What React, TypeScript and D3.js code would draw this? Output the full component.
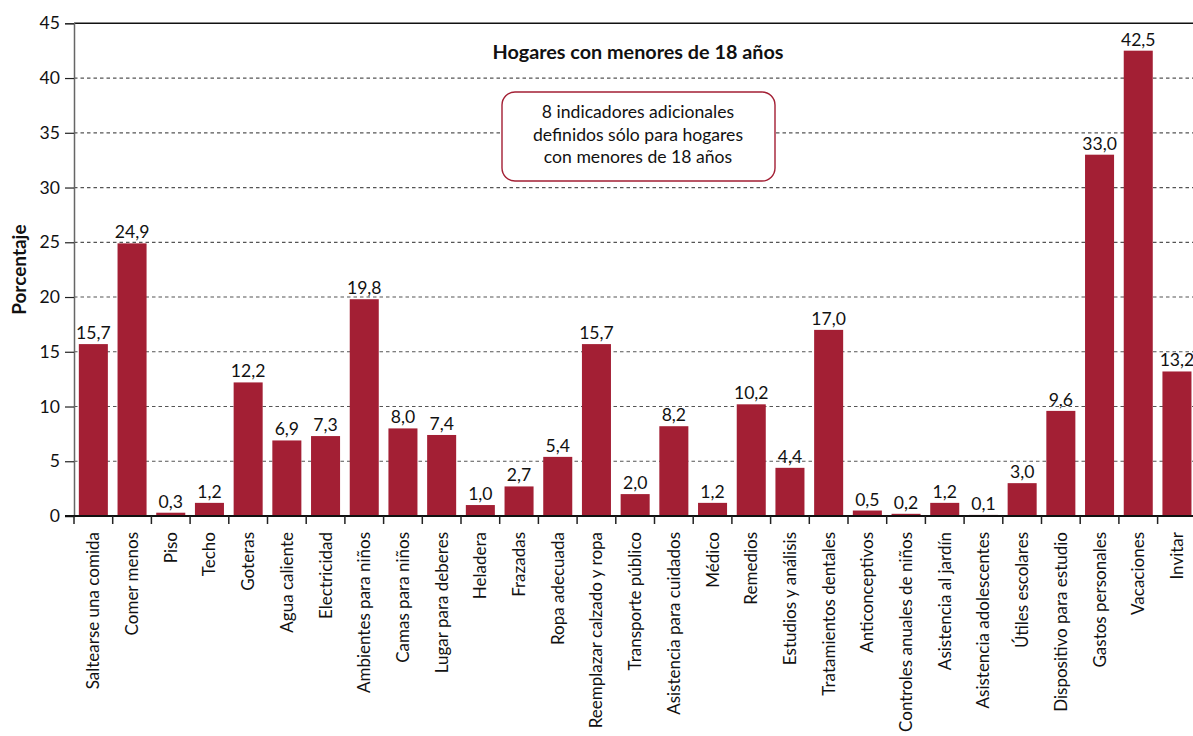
import { useEffect, useRef } from "react";
import * as d3 from "d3";

const categories = [
  "Saltearse una comida",
  "Comer menos",
  "Piso",
  "Techo",
  "Goteras",
  "Agua caliente",
  "Electricidad",
  "Ambientes para niños",
  "Camas para niños",
  "Lugar para deberes",
  "Heladera",
  "Frazadas",
  "Ropa adecuada",
  "Reemplazar calzado y ropa",
  "Transporte público",
  "Asistencia para cuidados",
  "Médico",
  "Remedios",
  "Estudios y análisis",
  "Tratamientos dentales",
  "Anticonceptivos",
  "Controles anuales de niños",
  "Asistencia al jardín",
  "Asistencia adolescentes",
  "Útiles escolares",
  "Dispositivo para estudio",
  "Gastos personales",
  "Vacaciones",
  "Invitar",
];

const values = [
  15.7, 24.9, 0.3, 1.2, 12.2, 6.9, 7.3, 19.8, 8.0, 7.4, 1.0, 2.7, 5.4, 15.7, 2.0, 8.2, 1.2, 10.2, 4.4,
  17.0, 0.5, 0.2, 1.2, 0.1, 3.0, 9.6, 33.0, 42.5, 13.2,
];

const yTicks = [0, 5, 10, 15, 20, 25, 30, 35, 40, 45];

const title = "Hogares con menores de 18 años";
const noteLines = ["8 indicadores adicionales", "definidos sólo para hogares", "con menores de 18 años"];

const BAR = "#A31F34";
const FONT = "Lato, 'Open Sans', sans-serif";
const FS = 17.6;

const App = () => {
  const chartRef = useRef<SVGSVGElement | null>(null);

  useEffect(() => {
    const W = 1193;
    const H = 736;
    const left = 74;
    const step = 38.7;
    const top = 23.3;
    const bottom = 516;

    const svg = d3.select(chartRef.current);
    svg.selectAll("*").remove();
    svg.attr("width", W).attr("height", H).style("font-family", FONT);

    const data = categories.map((c, i) => ({ cat: c, val: values[i] }));

    const x = d3
      .scaleBand()
      .domain(categories)
      .range([left, left + step * categories.length])
      .paddingInner(0.25)
      .paddingOuter(0.125);

    const y = d3.scaleLinear().domain([0, 45]).range([bottom, top]);

    // grid
    svg
      .append("g")
      .selectAll("line")
      .data(yTicks.filter((t) => t > 0))
      .enter()
      .append("line")
      .attr("x1", left)
      .attr("x2", W)
      .attr("y1", (d) => y(d))
      .attr("y2", (d) => y(d))
      .attr("stroke", (d) => (d === 45 ? "#111" : "#555"))
      .attr("stroke-width", (d) => (d === 45 ? 1.6 : 1.2))
      .attr("stroke-dasharray", (d) => (d === 45 ? null : "3.5,3"));

    // bars
    svg
      .append("g")
      .selectAll("rect")
      .data(data)
      .enter()
      .append("rect")
      .attr("x", (d) => x(d.cat)!)
      .attr("y", (d) => y(d.val))
      .attr("width", x.bandwidth())
      .attr("height", (d) => bottom - y(d.val))
      .attr("fill", BAR);

    // value labels
    svg
      .append("g")
      .selectAll("text")
      .data(data)
      .enter()
      .append("text")
      .attr("x", (d) => x(d.cat)! + x.bandwidth() / 2)
      .attr("y", (d) => y(d.val) - 5)
      .attr("text-anchor", "middle")
      .attr("font-size", FS)
      .attr("fill", "#111")
      .text((d) => d.val.toFixed(1).replace(".", ","));

    // y axis
    const yAxis = svg
      .append("g")
      .attr("transform", `translate(${left}, 0)`)
      .call(d3.axisLeft(y).tickValues(yTicks).tickSize(9).tickPadding(5));
    yAxis.select(".domain").attr("stroke", "#666").attr("stroke-width", 1.5);
    yAxis.selectAll(".tick line").attr("stroke", "#222").attr("stroke-width", 1.2);
    yAxis
      .selectAll(".tick text")
      .attr("font-size", FS)
      .attr("font-family", FONT)
      .attr("fill", "#111");

    // x axis
    const xg = svg.append("g");
    xg.append("line")
      .attr("x1", left - 9)
      .attr("x2", W)
      .attr("y1", bottom)
      .attr("y2", bottom)
      .attr("stroke", "#111")
      .attr("stroke-width", 2.2);
    const off = (x.step() - x.bandwidth()) / 2;
    xg.selectAll("line.tk")
      .data(categories)
      .enter()
      .append("line")
      .attr("class", "tk")
      .attr("x1", (d) => x(d)! - off)
      .attr("x2", (d) => x(d)! - off)
      .attr("y1", bottom)
      .attr("y2", bottom + 8)
      .attr("stroke", "#222")
      .attr("stroke-width", 1.5);
    xg.selectAll("text")
      .data(categories)
      .enter()
      .append("text")
      .attr(
        "transform",
        (d) => `translate(${x(d)! + x.bandwidth() / 2}, ${bottom + 16}) rotate(-90)`
      )
      .attr("text-anchor", "end")
      .attr("dy", "0.35em")
      .attr("font-size", 17)
      .attr("fill", "#111")
      .text((d) => d);

    // y title
    svg
      .append("text")
      .attr("transform", `translate(19, ${(top + bottom) / 2}) rotate(-90)`)
      .attr("text-anchor", "middle")
      .attr("dy", "0.35em")
      .attr("font-size", 19)
      .attr("font-weight", "bold")
      .attr("fill", "#111")
      .text("Porcentaje");

    // chart title
    svg
      .append("text")
      .attr("x", 638)
      .attr("y", 59)
      .attr("text-anchor", "middle")
      .attr("font-size", 19.8)
      .attr("font-weight", "bold")
      .attr("fill", "#111")
      .text(title);

    // note box
    const note = svg.append("g");
    note
      .append("rect")
      .attr("x", 502)
      .attr("y", 92)
      .attr("width", 273)
      .attr("height", 89)
      .attr("rx", 13)
      .attr("fill", "#fff")
      .attr("stroke", BAR)
      .attr("stroke-width", 1.4);
    note
      .selectAll("text")
      .data(noteLines)
      .enter()
      .append("text")
      .attr("x", 638)
      .attr("y", (_, i) => 118 + i * 22.5)
      .attr("text-anchor", "middle")
      .attr("font-size", FS)
      .attr("fill", "#111")
      .text((d) => d);
  }, []);

  return (
    <div style={{ position: "absolute", left: 0, top: 0, width: 1193, height: 736, overflow: "hidden" }}>
      <svg ref={chartRef} style={{ display: "block", background: "#fff" }}></svg>
    </div>
  );
};

export default App;
